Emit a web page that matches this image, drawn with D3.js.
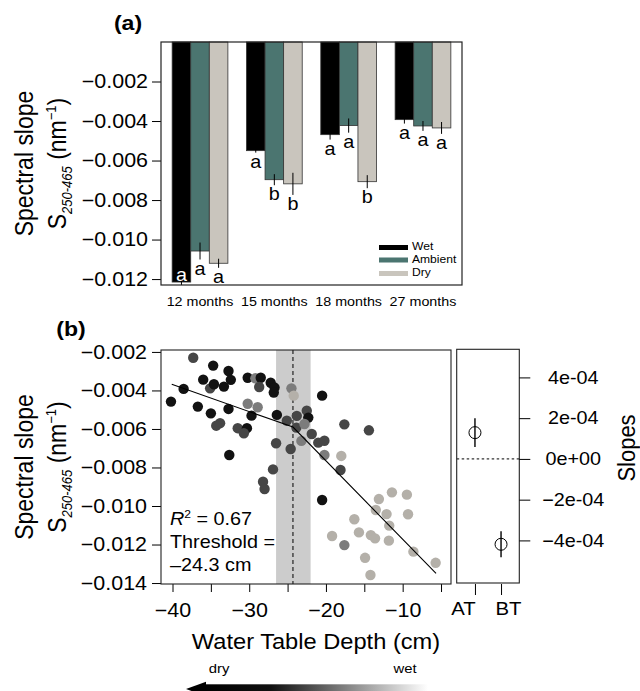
<!DOCTYPE html>
<html>
<head>
<meta charset="utf-8">
<script src="https://cdn.jsdelivr.net/npm/d3@7"></script>
<style>
  body { margin: 0; background: #fff; }
  svg { display: block; }
  text { font-family: "Liberation Sans", Arial, Helvetica, sans-serif; fill: #000; }
</style>
</head>
<body>
<div id="chart"></div>
<script>
// ---- panel (a): spectral slope by treatment and time
const months = ["12 months", "15 months", "18 months", "27 months"];
const treatments = ["Wet", "Ambient", "Dry"];
const slopeWet = [-0.01215, -0.0055, -0.00469, -0.00393];
const slopeAmbient = [-0.01058, -0.00697, -0.00423, -0.00425];
const slopeDry = [-0.0112, -0.00718, -0.00707, -0.00435];
const seWet = [0.00015, 0.0001, 0.00025, 0.0002];
const seAmbient = [0.00043, 0.00028, 0.00036, 0.00025];
const seDry = [0.00023, 0.00056, 0.00033, 0.0003];
const lettersWet = ["a", "a", "a", "a"];
const lettersAmbient = ["a", "b", "a", "a"];
const lettersDry = ["a", "b", "b", "a"];

// ---- panel (b): spectral slope vs water table depth
// shade: 0 black, 1 dark grey, 2 mid grey, 3 light grey
const depth = [
  -37.3, -34.7, -32.7, -36.0, -35.1, -34.6, -33.3, -32.4, -30.2, -29.2,
  -28.5, -28.7, -27.2, -26.7, -26.8, -24.5, -24.2, -38.55, -40.2, -36.7,
  -35.0, -32.7, -30.2, -28.9, -29.7, -26.4, -25.1, -23.8, -23.85, -33.8,
  -34.3, -31.5, -30.3, -30.7, -26.5, -24.6, -32.6, -26.9, -28.2, -28.0,
  -23.2, -20.5, -22.5, -22.3, -22.8, -21.85, -21.0, -20.2, -20.2, -18.0,
  -18.1, -17.6, -14.4, -20.5, -13.1, -11.4, -9.45, -13.5, -12.1, -9.3,
  -16.3, -11.75, -15.7, -19.2, -14.15, -13.6, -11.8, -17.6, -8.6, -5.7,
  -14.9, -14.2
];
const spectral = [
  -0.0023, -0.00271, -0.00299, -0.00344, -0.00389, -0.00368, -0.0038, -0.00345, -0.00334, -0.00337,
  -0.00334, -0.00382, -0.0036, -0.00385, -0.00411, -0.00389, -0.00427, -0.00392, -0.00458, -0.00484,
  -0.00519, -0.00496, -0.00469, -0.00487, -0.00531, -0.00527, -0.00557, -0.00532, -0.00593, -0.0057,
  -0.00583, -0.00596, -0.00596, -0.00622, -0.00674, -0.00704, -0.00735, -0.0081, -0.00874, -0.00912,
  -0.00662, -0.00427, -0.00505, -0.00541, -0.00574, -0.00626, -0.00671, -0.00661, -0.00735, -0.0074,
  -0.00813, -0.00576, -0.00607, -0.00969, -0.00964, -0.00929, -0.00941, -0.01021, -0.01042, -0.01043,
  -0.01069, -0.01102, -0.01137, -0.01156, -0.01151, -0.01168, -0.0118, -0.01203, -0.01237, -0.01295,
  -0.01269, -0.01358
];
const shade = [
  1, 0, 0, 0, 1, 0, 0, 0, 0, 2,
  0, 1, 0, 0, 0, 2, 3, 0, 0, 0,
  0, 0, 2, 2, 0, 0, 1, 1, 1, 1,
  1, 1, 0, 1, 1, 1, 0, 1, 1, 1,
  2, 0, 1, 0, 2, 1, 1, 1, 2, 3,
  1, 1, 1, 0, 3, 3, 3, 3, 3, 3,
  3, 3, 3, 3, 3, 3, 3, 2, 3, 3,
  3, 3
];
const fitDepth = [-40.1, -24.3, -5.65];
const fitSlope = [-0.00368, -0.0059, -0.0135];
const threshold = -24.3;
const thresholdCI = [-26.5, -22.0];

// ---- slopes above / below threshold
const slopeLabels = ["AT", "BT"];
const slopeEst = [1.29e-4, -4.19e-4];
const slopeSE = [7e-5, 6.4e-5];

const W = 640, H = 691;
const SX = 1.1; // the reference text is slightly wide
const TICK_FS = "19.5px";

const barColors = ["#000000", "#4b7570", "#c9c5bd"];
const shadeColors = ["#121212", "#464646", "#7c7c7c", "#b4b0a9"];

const svg = d3.select("#chart").append("svg").attr("width", W).attr("height", H);

function txt(g, x, y, s, size, opts = {}) {
  const rot = opts.rotate ? " rotate(-90)" : "";
  return g.append("text")
    .attr("transform", `translate(${x},${y}) scale(${SX},1)${rot}`)
    .attr("text-anchor", opts.anchor || "middle")
    .style("font-size", size + "px")
    .style("font-weight", opts.bold ? "bold" : null)
    .text(s);
}

// stretch axis labels the same way as the other text
function stretchTicks(sel) {
  sel.selectAll(".tick text").each(function () {
    const t = d3.select(this);
    const x = +t.attr("x") || 0;
    t.attr("x", null).attr("transform", `translate(${x},0) scale(${SX},1)`);
  });
}

function yTitle(g, cy) {
  txt(g, 33, cy, "Spectral slope", 23, { rotate: true });
  const t = g.append("text")
    .attr("transform", `translate(66,${cy}) scale(${SX},1) rotate(-90)`)
    .attr("text-anchor", "middle")
    .style("font-size", "23px");
  t.append("tspan").text("S");
  t.append("tspan").attr("dy", 5).style("font-size", "13px").style("font-style", "italic").text("250-465");
  t.append("tspan").attr("dy", -5).text(" (nm");
  t.append("tspan").attr("dy", -9).style("font-size", "13px").text("\u22121");
  t.append("tspan").attr("dy", 9).text(")");
}

// ================= panel (a)
const ga = svg.append("g");
const xa = d3.scaleLinear().domain([0.4, 16.6]).range([161, 462]);
const ya = d3.scaleLinear().domain([-0.0123, 0]).range([285, 42]);

const series = [slopeWet, slopeAmbient, slopeDry];
const ses = [seWet, seAmbient, seDry];
const letters = [lettersWet, lettersAmbient, lettersDry];
const bars = months.flatMap((m, g) => treatments.map((t, i) => ({
  g, i, v: series[i][g], se: ses[i][g], letter: letters[i][g]
})));
const bw = xa(2) - xa(1);

ga.selectAll("rect.bar")
  .data(bars)
  .enter()
  .append("rect")
  .attr("class", "bar")
  .attr("x", (d) => xa(1 + d.g * 4 + d.i))
  .attr("y", ya(0))
  .attr("width", bw)
  .attr("height", (d) => ya(d.v) - ya(0))
  .attr("fill", (d) => barColors[d.i])
  .attr("stroke", "#333")
  .attr("stroke-width", 0.8);

ga.selectAll("line.err")
  .data(bars)
  .enter()
  .append("line")
  .attr("x1", (d) => xa(1.5 + d.g * 4 + d.i))
  .attr("x2", (d) => xa(1.5 + d.g * 4 + d.i))
  .attr("y1", (d) => ya(d.v + d.se))
  .attr("y2", (d) => ya(d.v - d.se))
  .attr("stroke", "#000")
  .attr("stroke-width", 1);

bars.forEach((d) => {
  const lo = ya(d.v - d.se);
  const inside = lo + 15 > ya.range()[0];
  txt(ga, xa(1.5 + d.g * 4 + d.i), inside ? ya(d.v) - 1 : lo + 15, d.letter, 18)
    .style("fill", inside ? "#fff" : "#000");
});

const axA = ga.append("g")
  .attr("transform", "translate(161,0)")
  .call(d3.axisLeft(ya)
    .tickValues([-0.002, -0.004, -0.006, -0.008, -0.010, -0.012])
    .tickFormat(d3.format(".3f"))
    .tickSize(9)
    .tickPadding(4));
axA.select(".domain").remove();
axA.selectAll(".tick text").style("font-size", TICK_FS).style("font-family", null);
stretchTicks(axA);

ga.append("rect")
  .attr("x", 161).attr("y", 42).attr("width", 301).attr("height", 243)
  .attr("fill", "none").attr("stroke", "#222").attr("stroke-width", 1.2);

months.forEach((m, g) => txt(ga, xa(2.5 + g * 4), 306, m, 13));

// legend
const legY = [245, 257.5, 271];
treatments.forEach((t, i) => {
  ga.append("rect").attr("x", 379).attr("y", legY[i]).attr("width", 29).attr("height", 5)
    .attr("fill", barColors[i]);
  txt(ga, 412, legY[i] + 5, t, 11, { anchor: "start" });
});

txt(ga, 128, 30, "(a)", 21, { bold: true });
yTitle(ga, 163.5);

// ================= panel (b)
const gb = svg.append("g");
const xb = d3.scaleLinear().domain([-41.5, -3.7]).range([161, 451]);
const yb = d3.scaleLinear().domain([-0.01405, -0.0019]).range([584, 350]);

gb.append("rect")
  .attr("x", xb(thresholdCI[0])).attr("y", 350)
  .attr("width", xb(thresholdCI[1]) - xb(thresholdCI[0])).attr("height", 234)
  .attr("fill", "#cccccc");
gb.append("line")
  .attr("x1", xb(threshold)).attr("x2", xb(threshold)).attr("y1", 350).attr("y2", 584)
  .attr("stroke", "#000").attr("stroke-width", 1).attr("stroke-dasharray", "4,3");

const pts = depth.map((x, i) => ({ x, y: spectral[i], s: shade[i] }));
gb.selectAll("circle.pt")
  .data(pts)
  .enter()
  .append("circle")
  .attr("cx", (d) => xb(d.x))
  .attr("cy", (d) => yb(d.y))
  .attr("r", 5.2)
  .attr("fill", (d) => shadeColors[d.s]);

gb.append("path")
  .datum(fitDepth.map((x, i) => [x, fitSlope[i]]))
  .attr("d", d3.line().x((d) => xb(d[0])).y((d) => yb(d[1])))
  .attr("fill", "none").attr("stroke", "#000").attr("stroke-width", 1.1);

const axBy = gb.append("g")
  .attr("transform", "translate(161,0)")
  .call(d3.axisLeft(yb)
    .tickValues([-0.002, -0.004, -0.006, -0.008, -0.010, -0.012, -0.014])
    .tickFormat(d3.format(".3f"))
    .tickSize(9)
    .tickPadding(5));
axBy.select(".domain").remove();
axBy.selectAll(".tick text").style("font-size", TICK_FS).style("font-family", null);
stretchTicks(axBy);

const axBx = gb.append("g")
  .attr("transform", "translate(0,584)")
  .call(d3.axisBottom(xb)
    .tickValues([-40, -35, -30, -25, -20, -15, -10, -5])
    .tickFormat((d) => (d % 10 === 0 ? d3.format("d")(d) : ""))
    .tickSize(8)
    .tickPadding(11));
axBx.select(".domain").remove();
axBx.selectAll(".tick text").style("font-size", TICK_FS).style("font-family", null);
stretchTicks(axBx);

gb.append("rect")
  .attr("x", 161).attr("y", 350).attr("width", 290).attr("height", 234)
  .attr("fill", "none").attr("stroke", "#222").attr("stroke-width", 1.1);

const r2 = gb.append("text")
  .attr("transform", `translate(170,525) scale(${SX},1)`)
  .style("font-size", "18px");
r2.append("tspan").style("font-style", "italic").text("R");
r2.append("tspan").attr("dy", -7).style("font-size", "11px").text("2");
r2.append("tspan").attr("dy", 7).text(" = 0.67");
txt(gb, 170, 548, "Threshold =", 18, { anchor: "start" });
txt(gb, 170, 571, "\u201324.3 cm", 18, { anchor: "start" });

txt(gb, 71, 336, "(b)", 21, { bold: true });
yTitle(gb, 467);
txt(gb, 316, 649, "Water Table Depth (cm)", 21.5);

// dry / wet arrow
txt(gb, 219, 673, "dry", 13.5);
txt(gb, 405, 673, "wet", 13.5);
const grad = svg.append("defs").append("linearGradient")
  .attr("id", "dw").attr("x1", "0%").attr("x2", "100%");
grad.append("stop").attr("offset", "0%").attr("stop-color", "#000");
grad.append("stop").attr("offset", "30%").attr("stop-color", "#111");
grad.append("stop").attr("offset", "100%").attr("stop-color", "#fff");
gb.append("rect").attr("x", 204).attr("y", 684.3).attr("width", 224).attr("height", 9.4)
  .attr("fill", "url(#dw)");
gb.append("path").attr("d", "M186,689 L206,681.7 L206,696.3 Z").attr("fill", "#000");

// ================= slopes panel
const gs = svg.append("g");
const xs = d3.scaleLinear().domain([0.3, 2.7]).range([456.7, 519.3]);
const ys = d3.scaleLinear().domain([-6.09e-4, 5.38e-4]).range([583, 349.3]);

gs.append("line")
  .attr("x1", 456.7).attr("x2", 519.3).attr("y1", ys(0)).attr("y2", ys(0))
  .attr("stroke", "#000").attr("stroke-width", 1).attr("stroke-dasharray", "2.5,2.5");

const est = slopeLabels.map((l, i) => ({ k: i + 1, v: slopeEst[i], se: slopeSE[i] }));
gs.selectAll("line.se")
  .data(est)
  .enter()
  .append("line")
  .attr("x1", (d) => xs(d.k)).attr("x2", (d) => xs(d.k))
  .attr("y1", (d) => ys(d.v + d.se)).attr("y2", (d) => ys(d.v - d.se))
  .attr("stroke", "#000").attr("stroke-width", 1.4);
gs.selectAll("circle.est")
  .data(est)
  .enter()
  .append("circle")
  .attr("cx", (d) => xs(d.k)).attr("cy", (d) => ys(d.v)).attr("r", 6)
  .attr("fill", "none").attr("stroke", "#000").attr("stroke-width", 1);

gs.append("rect")
  .attr("x", 456.7).attr("y", 349.3).attr("width", 62.6).attr("height", 233.7)
  .attr("fill", "none").attr("stroke", "#222").attr("stroke-width", 1.1);

const expFmt = (d) => {
  const [m, e] = d.toExponential(0).split("e");
  const ee = String(Math.abs(+e)).padStart(2, "0");
  return m.replace("-", "\u2212") + "e" + (+e < 0 ? "-" : "+") + ee;
};
const axSy = gs.append("g")
  .attr("transform", "translate(519.3,0)")
  .call(d3.axisRight(ys)
    .tickValues([4e-4, 2e-4, 0, -2e-4, -4e-4])
    .tickFormat(expFmt)
    .tickSize(11)
    .tickPadding(43));
axSy.select(".domain").remove();
axSy.selectAll(".tick text").style("font-size", "18px").style("font-family", null)
  .attr("text-anchor", "middle");
stretchTicks(axSy);

const axSx = gs.append("g")
  .attr("transform", "translate(0,584)")
  .call(d3.axisBottom(xs)
    .tickValues([1, 2])
    .tickFormat((d) => slopeLabels[d - 1])
    .tickSize(11)
    .tickPadding(7));
axSx.select(".domain").remove();
axSx.selectAll(".tick text").style("font-size", "18.5px").style("font-family", null)
  .attr("x", (d) => (d === 1 ? -12 : 7));
stretchTicks(axSx);

txt(gs, 635, 448, "Slopes", 22, { rotate: true });
</script>
</body>
</html>
